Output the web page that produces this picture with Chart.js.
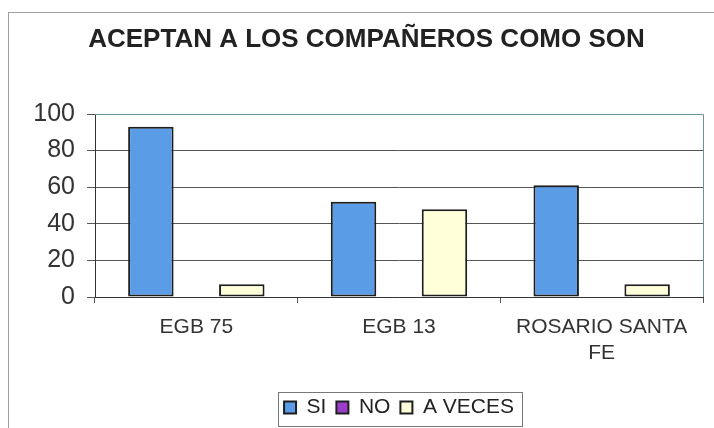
<!DOCTYPE html>
<html>
<head>
<meta charset="utf-8">
<script src="https://cdn.jsdelivr.net/npm/chart.js@4/dist/chart.umd.min.js"></script>
<style>
  html, body { margin: 0; padding: 0; background: #fff; }
  #wrap { width: 714px; height: 428px; position: relative; }
</style>
</head>
<body>
<div id="wrap"><canvas id="chart"></canvas></div>
<script>
'use strict';
// chart data
const titleText = 'ACEPTAN A LOS COMPAÑEROS COMO SON';
const categories = ['EGB 75', 'EGB 13', ['ROSARIO SANTA', 'FE']];
const seriesNames = ['SI', 'NO', 'A VECES'];
const siValues = [93, 52, 61];
const noValues = [0, 0, 0];
const aVecesValues = [7, 48, 7];
const yMin = 0, yMax = 100, yStep = 20;

const seriesColors = ['#5a9de6', '#9b3dc9', '#ffffda'];
const FONT = "'Liberation Sans', Arial, sans-serif";

// outer frame like the scanned sheet
const framePlugin = {
  id: 'frame',
  beforeDraw(chart) {
    const ctx = chart.ctx;
    ctx.save();
    ctx.fillStyle = '#fff';
    ctx.fillRect(0, 0, chart.width, chart.height);
    ctx.strokeStyle = '#a0a0a0';
    ctx.lineWidth = 1;
    ctx.strokeRect(8.5, 12.5, chart.width + 20, chart.height + 20);
    ctx.restore();
  },
  beforeDatasetsDraw(chart) {
    const a = chart.chartArea, ctx = chart.ctx;
    ctx.save();
    ctx.strokeStyle = '#6f9496';
    ctx.lineWidth = 1;
    ctx.beginPath();
    ctx.moveTo(a.left, Math.round(a.top) + 0.5);
    ctx.lineTo(Math.round(a.right) + 0.5, Math.round(a.top) + 0.5);
    ctx.lineTo(Math.round(a.right) + 0.5, a.bottom);
    ctx.stroke();
    ctx.restore();
  }
};

// move legend under the plot centre and box it
const legendBoxPlugin = {
  id: 'legendBox',
  afterLayout(chart) {
    const lg = chart.legend;
    const dx = 399 - (lg.left + lg.right) / 2;
    lg.left += dx; lg.right += dx;
  },
  afterDraw(chart) {
    const hb = chart.legend.legendHitBoxes;
    if (!hb || !hb.length) return;
    const last = hb[hb.length - 1];
    const x0 = Math.round(hb[0].left - 6) + 0.5;
    const x1 = Math.round(last.left + last.width + 8) + 0.5;
    const y0 = Math.round(hb[0].top - 5) + 0.5;
    const y1 = Math.round(hb[0].top + hb[0].height + 8) + 0.5;
    const ctx = chart.ctx;
    ctx.save();
    ctx.strokeStyle = '#777';
    ctx.lineWidth = 1;
    ctx.strokeRect(x0, y0, x1 - x0, y1 - y0);
    ctx.restore();
  }
};

const values = [siValues, noValues, aVecesValues];
const datasets = seriesNames.map((name, i) => ({
  label: name,
  data: values[i],
  backgroundColor: seriesColors[i],
  borderColor: '#1e1e1e',
  borderWidth: 2,
  borderSkipped: false,
  categoryPercentage: 0.673,
  barPercentage: 1.0
}));

new Chart(document.getElementById('chart').getContext('2d'), {
  type: 'bar',
  data: { labels: categories, datasets },
  options: {
    responsive: true,
    maintainAspectRatio: false,
    animation: false,
    devicePixelRatio: 1,
    layout: { padding: { left: 30, right: 11, top: 0, bottom: 0 } },
    plugins: {
      title: {
        display: true,
        text: titleText,
        color: '#222',
        font: { family: FONT, size: 26, weight: 'bold' },
        padding: { top: 24, bottom: 58.8 }
      },
      legend: {
        position: 'bottom',
        labels: {
          boxWidth: 12, boxHeight: 12, padding: 10,
          color: '#222',
          font: { family: FONT, size: 21 }
        }
      },
      tooltip: { enabled: false }
    },
    scales: {
      x: {
        afterFit: s => { s.height = 90; },
        grid: { drawOnChartArea: false, drawTicks: true, tickLength: 6, color: '#555' },
        border: { color: '#333', width: 1 },
        ticks: {
          color: '#333', padding: 11, maxRotation: 0, autoSkip: false,
          font: { family: FONT, size: 21, lineHeight: 1.25 }
        }
      },
      y: {
        min: yMin, max: yMax,
        afterFit: s => { s.width = 65; },
        grid: { color: '#555', tickLength: 8 },
        border: { color: '#333', width: 1 },
        ticks: {
          stepSize: yStep, color: '#333', padding: 12,
          font: { family: FONT, size: 25 }
        }
      }
    }
  },
  plugins: [framePlugin, legendBoxPlugin]
});
</script>
</body>
</html>
